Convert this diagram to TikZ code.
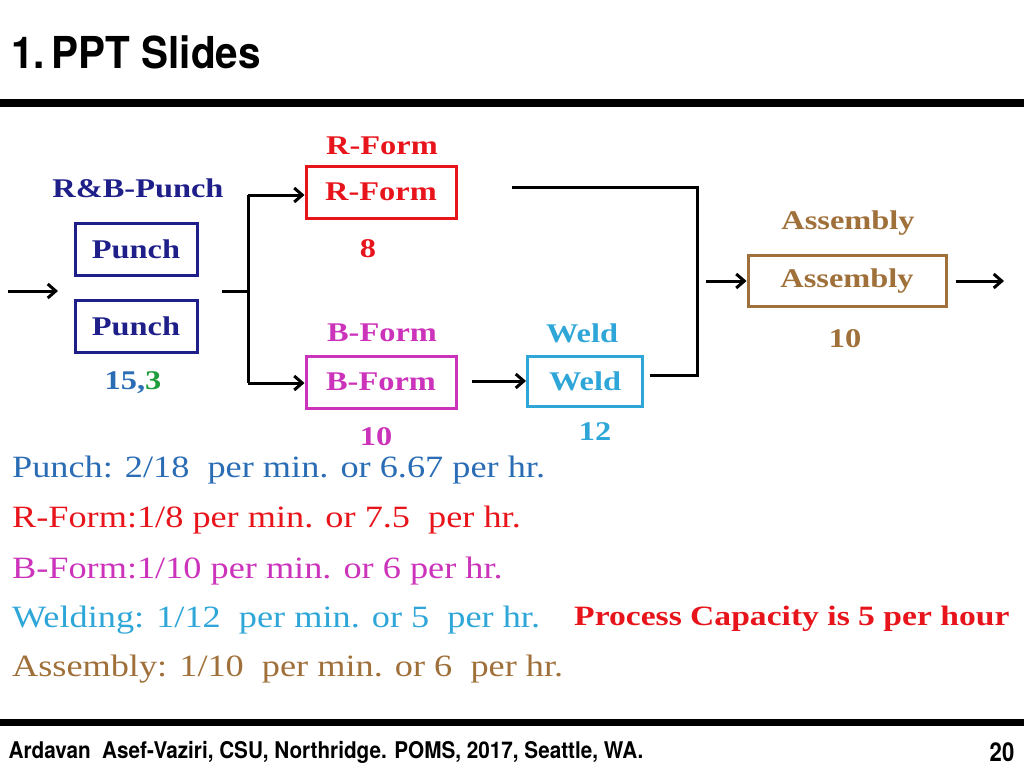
\documentclass[tikz,border=0pt]{standalone}
\usepackage{fontspec}
\setmainfont{Liberation Serif}
\newfontfamily\ttl{TeX Gyre Heros}
\usetikzlibrary{arrows.meta}
\definecolor{navy}{HTML}{1F1F8A}
\definecolor{rf}{HTML}{E8141B}
\definecolor{bf}{HTML}{CC33BB}
\definecolor{wd}{HTML}{2EA6D8}
\definecolor{asm}{HTML}{A0703A}
\definecolor{pb}{HTML}{2A6DB5}
\definecolor{gr}{HTML}{1E9E3A}
\begin{document}
\begin{tikzpicture}[x=1pt,y=-1pt,
 box/.style={draw,line width=3pt,minimum height=52pt,font=\fontsize{27}{29}\selectfont\bfseries},
 lbl/.style={font=\fontsize{27}{29}\selectfont\bfseries,xscale=1.2},
 ln/.style={line width=3pt},
 arr/.style={line width=3pt,-{Straight Barb[length=8pt,width=14pt]}},
 txt/.style={anchor=west,font=\fontsize{31}{33}\selectfont,xscale=1.17}]
\useasboundingbox (0,0) rectangle (1024,768);
\node[font=\ttl\bfseries\fontsize{44}{46}\selectfont,xscale=0.92] (title) at (136,52) {1.\,PPT Slides};
\fill (0,99) rectangle (1024,107);
\fill (0,719) rectangle (1024,726);
\node[font=\ttl\bfseries\fontsize{23}{25}\selectfont,xscale=0.9] (foot) at (326,752) {Ardavan\ \ Asef-Vaziri, CSU, Northridge. POMS, 2017, Seattle, WA.};
\node[font=\ttl\bfseries\fontsize{26}{28}\selectfont,xscale=0.85] (pg) at (1002,752) {20};
% boxes
\node[box,draw=navy,minimum width=122pt] (p1) at (136,249) {};
\node[lbl,text=navy] at (p1) {Punch};
\node[box,draw=navy,minimum width=122pt] (p2) at (136,326) {};
\node[lbl,text=navy] at (p2) {Punch};
\node[box,draw=rf,minimum width=150pt] (r) at (381,192) {};
\node[lbl,text=rf] at (r) {R-Form};
\node[box,draw=bf,minimum width=150pt] (b) at (381,382) {};
\node[lbl,text=bf] at (b) {B-Form};
\node[box,draw=wd,minimum width=115pt,minimum height=50pt] (w) at (585,381) {};
\node[lbl,text=wd] at (w) {Weld};
\node[box,draw=asm,minimum width=198pt,minimum height=51pt] (a) at (847,281) {};
\node[lbl,text=asm] at (a) {Assembly};
% labels
\node[lbl,text=navy] (l1) at (138,188) {R\&B-Punch};
\node[lbl,text=pb] (l2) at (133,383) {15,\textcolor{gr}{3}};
\node[lbl,text=rf] (l3) at (382,146) {R-Form};
\node[lbl,text=rf] (l4) at (368,249) {8};
\node[lbl,text=bf] (l5) at (382,333) {B-Form};
\node[lbl,text=bf] (l6) at (376,437) {10};
\node[lbl,text=wd] (l7) at (582,333) {Weld};
\node[lbl,text=wd] (l8) at (595,432) {12};
\node[lbl,text=asm] (l9) at (848,223) {Assembly};
\node[lbl,text=asm] (l10) at (845,339) {10};
% connectors
\coordinate (in) at (8,291); \coordinate (inE) at (58,291);
\draw[arr] (in) -- (inE);
\coordinate (m0) at (222,291); \coordinate (m1) at (248,291);
\coordinate (mt) at (248,195); \coordinate (mb) at (248,383);
\draw[ln] (m0) -- (m1);
\draw[ln] (mt) -- (mb);
\draw[arr] (mt) -- (r.west|-mt);
\draw[arr] (mb) -- (b.west|-mb);
\coordinate (bw0) at (472,381);
\draw[arr] (bw0) -- (w.west);
\coordinate (t0) at (512,187); \coordinate (t1) at (697,187); \coordinate (t2) at (697,375); \coordinate (t3) at (650,375);
\draw[ln] (t0) -- (t1) -- (t2) -- (t3);
\coordinate (ai) at (706,281);
\draw[arr] (ai) -- (a.west);
\coordinate (ao) at (1004,281);
\draw[arr] (a.east) ++(8,0) coordinate (aoS) (aoS) -- (ao);
% text lines
\node[txt,text=pb] (t_1) at (8,470) {Punch: 2/18\ \ per min. or 6.67 per hr.};
\node[txt,text=rf] (t_2) at (8,520) {R-Form:1/8 per min. or 7.5\ \ per hr.};
\node[txt,text=bf] (t_3) at (8,571) {B-Form:1/10 per min. or 6 per hr.};
\node[txt,text=wd] (t_4) at (8,620) {Welding: 1/12\ \ per min. or 5\ \ per hr.};
\node[txt,text=asm] (t_5) at (8,669) {Assembly: 1/10\ \ per min. or 6\ \ per hr.};
\node[anchor=west,text=rf,font=\fontsize{28}{30}\selectfont\bfseries,xscale=1.2] (pc) at (570,619) {Process Capacity is 5 per hour};
\end{tikzpicture}
\end{document}
